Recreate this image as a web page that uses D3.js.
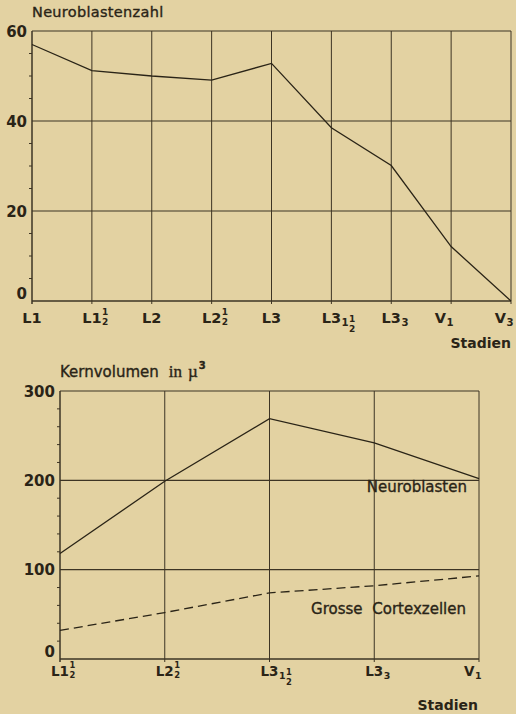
<!DOCTYPE html>
<html><head><meta charset="utf-8">
<script src="https://cdn.jsdelivr.net/npm/d3@7"></script>
<style>
html,body{margin:0;padding:0;background:#e3d2a2;}
svg{display:block;}
text{fill:#2a2417;}
.med{stroke:#2a2417;stroke-width:0.35px;}
</style></head><body>
<svg id="c" width="516" height="714"></svg>
<script>
// ---------- data ----------
const stagesTop = ["L1","L1½","L2","L2½","L3","L3₁½","L3₃","V₁","V₃"];
const neuroblastCount = [57,51.2,50,49.1,52.8,38.5,30.1,12.1,0];
const yTicksTop = [0,20,40,60];
const yMinorTop = [5,10,15,25,30,35,45,50,55];

const stagesBottom = ["L1½","L2½","L3₁½","L3₃","V₁"];
const neuroblastVolume = [118,199,269,242,202];
const cortexVolume = [32,52,74,82,93];
const yTicksBottom = [0,100,200,300];
const yMinorBottom = [20,40,60,80,120,140,160,180,220,240,260,280];

// ---------- setup ----------
const svg = d3.select("#c");
const ink = "#2a2417";
const gridCol = "#3d3424";
const FONT = "'DejaVu Sans', sans-serif";

svg.append("rect").attr("width",516).attr("height",714).attr("fill","#e3d2a2");

function drawStage(g, label, x, baseY, fs) {
  const subMap = {"₁":"1","₃":"3"};
  const sfs = fs*0.62;
  const chars = Array.from(label);
  let k = 0, base = "";
  while (k < chars.length && !(chars[k] in subMap) && chars[k] !== "½") base += chars[k++];
  const grp = g.append("g");
  const t = grp.append("text").attr("x",0).attr("y",0).text(base)
    .style("font-family",FONT).style("font-weight","bold").style("font-size",fs+"px");
  const bw = t.node().getComputedTextLength();
  let cx = bw + 0.5, shift = 0;
  for (; k < chars.length; k++) {
    const ch = chars[k];
    if (ch in subMap) {
      const s = grp.append("text").attr("x",cx).attr("y",3).text(subMap[ch])
        .style("font-family",FONT).style("font-weight","bold").style("font-size",(fs*0.7)+"px");
      cx += s.node().getComputedTextLength() + 0.5;
      shift = 7;
    } else if (ch === "½") {
      const a = grp.append("text").attr("x",cx).attr("y",-7.5+shift).text("1")
        .style("font-family",FONT).style("font-weight","bold").style("font-size",sfs+"px");
      grp.append("text").attr("x",cx).attr("y",2.5+shift).text("2")
        .style("font-family",FONT).style("font-weight","bold").style("font-size",sfs+"px");
      cx += a.node().getComputedTextLength() + 0.5;
    }
  }
  if (label[0] === "V") grp.attr("transform",`translate(${x+3-cx},${baseY})`);
  else grp.attr("transform",`translate(${x-bw/2},${baseY})`);
}

function panel(opt) {
  const {stages, yDomain, xRange, yRange, yTicks, yMinor, series, labelY, fs} = opt;
  const x = d3.scalePoint().domain(stages).range(xRange);
  const y = d3.scaleLinear().domain(yDomain).range(yRange);
  const g = svg.append("g");
  const x0 = xRange[0], x1 = xRange[1], yb = y(yDomain[0]), yt = y(yDomain[1]);

  g.selectAll("line.v").data(stages).join("line")
    .attr("x1",d=>x(d)).attr("x2",d=>x(d)).attr("y1",yt).attr("y2",yb+3)
    .attr("stroke",gridCol).attr("stroke-width",d=>d===stages[0]?1.5:1);
  g.selectAll("line.h").data(yTicks).join("line")
    .attr("x1",x0).attr("x2",x1).attr("y1",d=>y(d)).attr("y2",d=>y(d))
    .attr("stroke",gridCol).attr("stroke-width",d=>d===yDomain[0]?1.6:1.1);
  g.selectAll("line.m").data(yMinor).join("line")
    .attr("x1",x0-3).attr("x2",x0).attr("y1",d=>y(d)).attr("y2",d=>y(d))
    .attr("stroke",gridCol).attr("stroke-width",1);
  g.selectAll("text.y").data(yTicks).join("text")
    .attr("x",x0-5).attr("y",d=>y(d) + (d===0?-2:5.5))
    .attr("text-anchor","end").text(d=>d)
    .style("font-family",FONT).style("font-weight","bold").style("font-size","15px");
  stages.forEach(s=>drawStage(g, s, x(s), labelY, fs));
  series.forEach(sr=>{
    const line = d3.line().x((d,i)=>x(stages[i])).y(d=>y(d));
    g.append("path").datum(sr.values).attr("d",line)
      .attr("fill","none").attr("stroke",ink).attr("stroke-width",1.3)
      .attr("stroke-dasharray",sr.dash||null);
  });
  return {x,y,g};
}

// ---------- top chart ----------
panel({
  stages: stagesTop, yDomain:[0,60], xRange:[32,511], yRange:[301,31],
  yTicks: yTicksTop, yMinor: yMinorTop, labelY: 322.5, fs: 14.5,
  series:[{values:neuroblastCount}]
});
svg.append("text").attr("class","med").attr("x",32).attr("y",17).text("Neuroblastenzahl")
  .style("font-family",FONT).style("font-size","14.5px").style("letter-spacing","0.3px");
svg.append("text").attr("x",511).attr("y",348).attr("text-anchor","end").text("Stadien")
  .style("font-family",FONT).style("font-weight","bold").style("font-size","14px");

// ---------- bottom chart ----------
panel({
  stages: stagesBottom, yDomain:[0,300], xRange:[60,479], yRange:[659,391],
  yTicks: yTicksBottom, yMinor: yMinorBottom, labelY: 675.5, fs: 13.5,
  series:[{values:neuroblastVolume},{values:cortexVolume, dash:"9,5"}]
});
const kt = svg.append("text").attr("class","med").attr("x",60).attr("y",376.5)
  .style("font-family",FONT).style("font-size","15px");
kt.append("tspan").text("Kernvolumen");
kt.append("tspan").attr("dx",10).style("font-family","'Liberation Serif', serif").style("font-size","17px").text("in");
kt.append("tspan").attr("dx",6).style("font-family","'Liberation Serif', serif").style("font-size","17px").text("µ");
kt.append("tspan").attr("dy",-8).attr("dx",1).style("font-weight","bold").style("font-size","10px").text("3");

svg.append("text").attr("class","med").attr("x",467).attr("y",492).attr("text-anchor","end").text("Neuroblasten")
  .style("font-family",FONT).style("font-size","15px");
svg.append("text").attr("class","med").attr("x",466).attr("y",614).attr("text-anchor","end")
  .style("font-family",FONT).style("font-size","15px").style("word-spacing","5px")
  .text("Grosse Cortexzellen");
svg.append("text").attr("x",478).attr("y",710).attr("text-anchor","end").text("Stadien")
  .style("font-family",FONT).style("font-weight","bold").style("font-size","14px");
</script>
</body></html>
